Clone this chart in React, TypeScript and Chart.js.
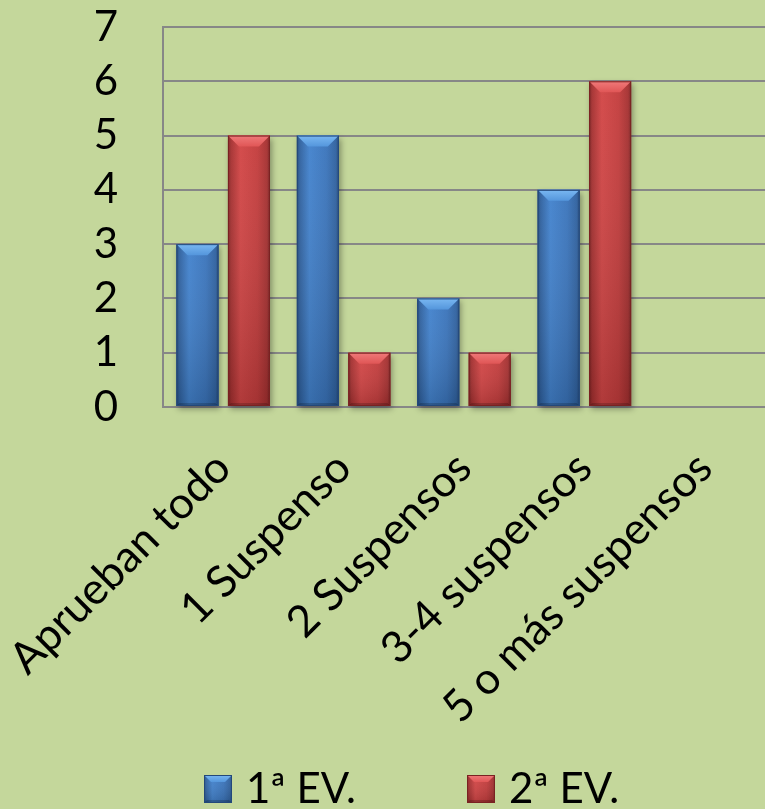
import { useEffect, useRef } from 'react';
import { Chart, registerables } from 'chart.js';

Chart.register(...registerables);

const categories = ['Aprueban todo', '1 Suspenso', '2 Suspensos', '3-4 suspensos', '5 o más suspensos'];
const seriesLabels = ['1ª EV.', '2ª EV.'];
const firstEval = [3, 5, 2, 4, 0];
const secondEval = [5, 1, 1, 6, 0];
const yMin = 0;
const yMax = 7;
const yStep = 1;

const BG = '#c4d79b';
const GRID = '#878787';
const FONT = 'Lato';
const FONT_SIZE = 42;
const XFONT_SIZE = 44;

type Pal = { edge: string; dark: string; mid: string; light: string; top1: string; top2: string };
const BLUE: Pal = { edge: '#23487a', dark: '#2f619f', mid: '#3a74bb', light: '#4282cd', top1: '#7ab8f2', top2: '#5496dc' };
const RED: Pal = { edge: '#7a2222', dark: '#a53030', mid: '#c33c3c', light: '#d24545', top1: '#f07a7a', top2: '#e05656' };

function paintBar(ctx: CanvasRenderingContext2D, l: number, t: number, r: number, b: number, pal: Pal, bevMax = 11) {
  const w = r - l;
  const h = b - t;
  if (h < 1 || w < 1) return;
  const bev = Math.min(bevMax, h / 2, w / 2);
  ctx.save();
  const g = ctx.createLinearGradient(l, 0, r, 0);
  g.addColorStop(0, pal.edge);
  g.addColorStop(0.07, pal.dark);
  g.addColorStop(0.3, pal.light);
  g.addColorStop(0.7, pal.mid);
  g.addColorStop(0.93, pal.dark);
  g.addColorStop(1, pal.edge);
  ctx.fillStyle = g;
  ctx.fillRect(l, t, w, h);
  const v = ctx.createLinearGradient(0, t, 0, b);
  v.addColorStop(0, 'rgba(255,255,255,0.04)');
  v.addColorStop(1, 'rgba(0,0,0,0.16)');
  ctx.fillStyle = v;
  ctx.fillRect(l, t, w, h);
  ctx.beginPath();
  ctx.moveTo(l, t);
  ctx.lineTo(r, t);
  ctx.lineTo(r - bev, t + bev);
  ctx.lineTo(l + bev, t + bev);
  ctx.closePath();
  const tg = ctx.createLinearGradient(0, t, 0, t + bev);
  tg.addColorStop(0, pal.top1);
  tg.addColorStop(1, pal.top2);
  ctx.fillStyle = tg;
  ctx.fill();
  const s = Math.min(3, h / 4);
  ctx.beginPath();
  ctx.moveTo(l, b);
  ctx.lineTo(l + s, b - s);
  ctx.lineTo(r - s, b - s);
  ctx.lineTo(r, b);
  ctx.closePath();
  ctx.fillStyle = 'rgba(0,0,0,0.18)';
  ctx.fill();
  ctx.strokeStyle = pal.edge;
  ctx.lineWidth = 1;
  ctx.strokeRect(l + 0.5, t + 0.5, w - 1, h - 1);
  ctx.restore();
}

function makeLegendIcon(pal: Pal): HTMLCanvasElement {
  const c = document.createElement('canvas');
  c.width = 28;
  c.height = 28;
  const ctx = c.getContext('2d')!;
  paintBar(ctx, 0, 0, 28, 28, pal, 7);
  return c;
}

const bevelPlugin = {
  id: 'bevelBars',
  afterLayout(chart: any) {
    // let the rotated category labels extend below the axis box without clipping
    const xs = chart.scales.x;
    if (xs) xs.bottom = chart.height;
  },
  beforeDatasetsDraw(chart: any) {
    const ctx = chart.ctx as CanvasRenderingContext2D;
    chart.data.datasets.forEach((_: any, di: number) => {
      const meta = chart.getDatasetMeta(di);
      meta.data.forEach((el: any) => {
        const top = Math.min(el.y, el.base);
        const bottom = Math.max(el.y, el.base);
        if (bottom - top < 1) return;
        ctx.save();
        ctx.shadowColor = 'rgba(0,0,0,0.35)';
        ctx.shadowBlur = 6;
        ctx.shadowOffsetX = 2;
        ctx.shadowOffsetY = 3;
        ctx.fillStyle = '#555';
        ctx.fillRect(el.x - el.width / 2, top, el.width, bottom - top);
        ctx.restore();
      });
    });
  },
  afterDatasetsDraw(chart: any) {
    const ctx = chart.ctx as CanvasRenderingContext2D;
    chart.data.datasets.forEach((_: any, di: number) => {
      const meta = chart.getDatasetMeta(di);
      const pal = di === 0 ? BLUE : RED;
      meta.data.forEach((el: any) => {
        const top = Math.min(el.y, el.base);
        const bottom = Math.max(el.y, el.base);
        paintBar(ctx, el.x - el.width / 2, top, el.x + el.width / 2, bottom, pal);
      });
    });
  },
};

export default function App() {
  const ref = useRef<HTMLCanvasElement | null>(null);

  useEffect(() => {
    if (!ref.current) return;
    const blueIcon = makeLegendIcon(BLUE);
    const redIcon = makeLegendIcon(RED);
    const chart = new Chart(ref.current, {
      type: 'bar',
      data: {
        labels: categories,
        datasets: [
          { label: seriesLabels[0], data: firstEval, backgroundColor: BLUE.mid, borderWidth: 0, pointStyle: blueIcon as any },
          { label: seriesLabels[1], data: secondEval, backgroundColor: RED.mid, borderWidth: 0, pointStyle: redIcon as any },
        ],
      },
      options: {
        animation: false,
        responsive: true,
        maintainAspectRatio: false,
        devicePixelRatio: 1,
        datasets: { bar: { categoryPercentage: 0.855, barPercentage: 0.815 } },
        layout: { padding: { left: 65, top: 27, right: 0, bottom: -11 } },
        plugins: {
          tooltip: { enabled: false },
          legend: {
            position: 'bottom',
            labels: {
              usePointStyle: true,
              boxWidth: 14,
              boxHeight: 28,
              padding: 118,
              color: '#000',
              font: { family: FONT, size: FONT_SIZE },
            },
          },
        },
        scales: {
          x: {
            grid: { display: false, drawTicks: false },
            border: { display: true, color: GRID, width: 2 },
            ticks: {
              color: '#000',
              font: { family: FONT, size: XFONT_SIZE },
              minRotation: 45,
              maxRotation: 45,
              autoSkip: false,
              padding: 35,
            },
            afterFit(scale: any) {
              scale.height = 243;
              scale.paddingLeft = 0;
              scale.paddingRight = 0;
            },
          },
          y: {
            min: yMin,
            max: yMax,
            grid: { color: GRID, lineWidth: 2, drawTicks: false },
            border: { display: true, color: GRID, width: 2 },
            ticks: {
              stepSize: yStep,
              color: '#000',
              font: { family: FONT, size: FONT_SIZE },
              padding: 45,
            },
            afterFit(scale: any) {
              scale.width = 98;
              scale.paddingTop = 0;
              scale.paddingBottom = 0;
            },
          },
        },
      },
      plugins: [bevelPlugin],
    });
    return () => chart.destroy();
  }, []);

  return (
    <div style={{ position: 'fixed', left: 0, top: 0, width: 765, height: 809, background: BG }}>
      <canvas ref={ref} />
    </div>
  );
}
